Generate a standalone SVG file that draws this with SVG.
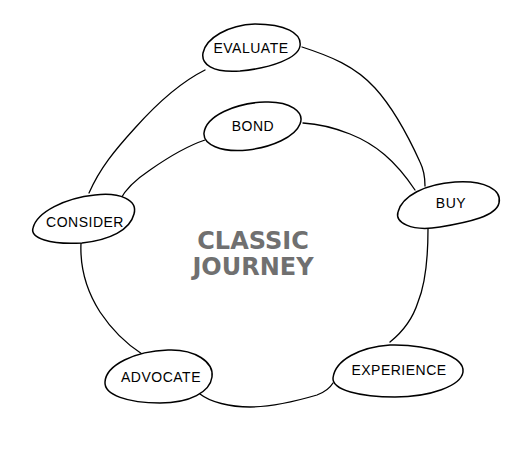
<svg xmlns="http://www.w3.org/2000/svg" width="524" height="454" viewBox="0 0 524 454">
<style>
.bg{fill:#fff}
.blob{fill:#fff;stroke:#000;stroke-width:1.5;stroke-linejoin:round}
.conn path{fill:none;stroke:#000;stroke-width:1.3;stroke-linecap:round}
.lbl{font-family:"Liberation Sans",Arial,sans-serif;font-size:14px;letter-spacing:0.5px;fill:#000;text-anchor:middle}
.title{font-family:"DejaVu Sans",Verdana,sans-serif;font-weight:bold;font-size:24px;fill:#707070;text-anchor:middle}
</style>
<rect class="bg" x="0" y="0" width="524" height="454"/>
<g id="connectors" class="conn">
<path d="M302,47 C330,56 355,66 375,88 C395,110 410,140 420,162 C425,172 425,180 425,186"/>
<path d="M303,123 C320,124 335,128 350,134 C375,144 395,160 415,190"/>
<path d="M205,70 C185,80 160,100 135,128 C115,150 100,168 89,193"/>
<path d="M205,140 C190,145 170,156 150,170 C135,180 125,190 120,200"/>
<path d="M81,243 C80,265 86,290 100,312 C112,330 125,343 142,354"/>
<path d="M200,394 C210,402 230,407 250,407 C275,407 300,400 317,395 C325,392 330,388 333,383"/>
<path d="M428,229 C428,250 427,280 418,302 C413,318 405,330 390,342"/>
</g>
<g id="evaluate">
<path class="blob" d="M255,24 C285,24 302,33 300,46 C298,58 272,68 240,71 C212,73 201,64 203,53 C206,38 228,25 255,24 Z"/>
<text class="lbl" x="251" y="53">EVALUATE</text>
</g>
<g id="bond">
<path class="blob" d="M265,102 C290,101 305,112 300,124 C295,137 272,147 248,150 C220,153 203,144 204,133 C206,116 235,103 265,102 Z"/>
<text class="lbl" x="253" y="131">BOND</text>
</g>
<g id="consider">
<path class="blob" d="M95,195 C120,192 138,200 134,214 C130,230 110,240 82,243 C50,245 30,238 33,228 C37,212 65,198 95,195 Z"/>
<text class="lbl" x="85" y="227">CONSIDER</text>
</g>
<g id="buy">
<path class="blob" d="M455,182 C485,180 502,190 499,203 C496,216 470,222 440,227 C410,232 395,222 398,212 C402,196 425,184 455,182 Z"/>
<text class="lbl" x="451" y="208">BUY</text>
</g>
<g id="experience">
<path class="blob" d="M390,345 C430,344 465,357 463,372 C461,386 430,397 395,397 C360,397 332,390 333,378 C335,360 360,347 390,345 Z"/>
<text class="lbl" x="399" y="375">EXPERIENCE</text>
</g>
<g id="advocate">
<path class="blob" d="M168,350 C195,349 214,362 212,377 C210,392 190,403 160,403 C128,403 104,395 105,382 C106,365 135,351 168,350 Z"/>
<text class="lbl" x="161" y="382">ADVOCATE</text>
</g>
<g id="title">
<text class="title" x="253" y="249">CLASSIC</text>
<text class="title" x="253" y="275">JOURNEY</text>
</g>
</svg>
